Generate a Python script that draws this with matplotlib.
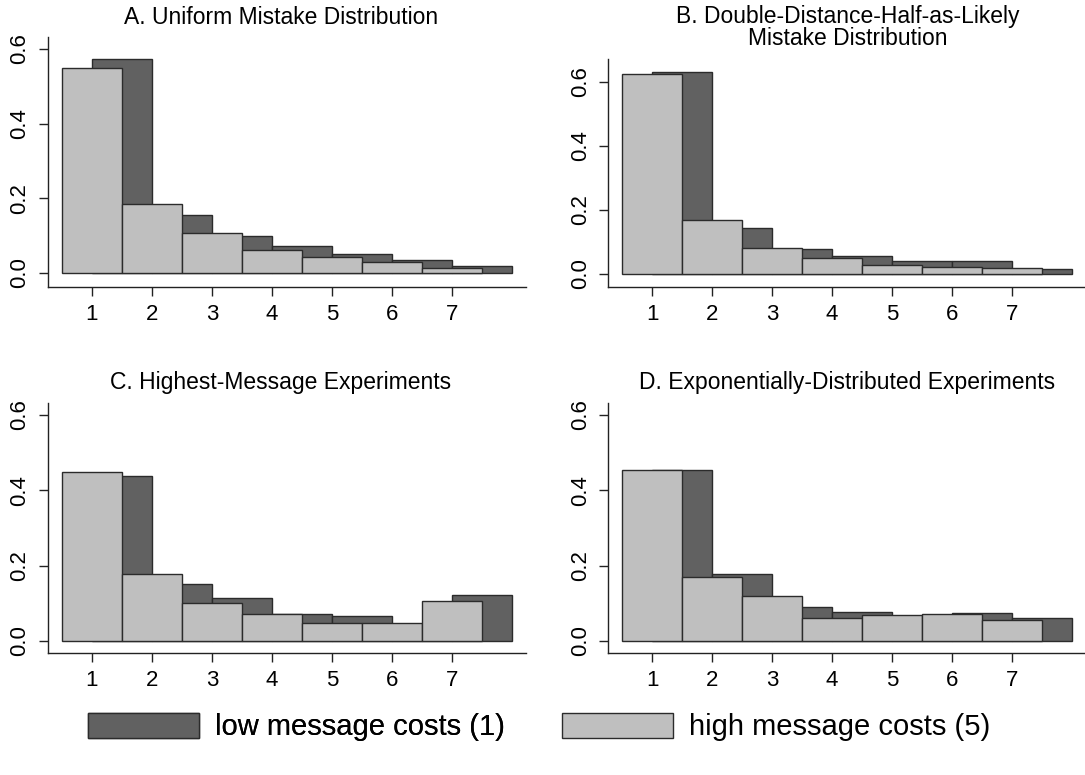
import matplotlib
matplotlib.use('Agg')
import matplotlib.pyplot as plt
import numpy as np

plt.rcParams['font.family'] = ['Liberation Sans', 'DejaVu Sans']

# message distance categories
msgs = [1, 2, 3, 4, 5, 6, 7]

titles = ['A. Uniform Mistake Distribution',
          'B. Double-Distance-Half-as-Likely\nMistake Distribution',
          'C. Highest-Message Experiments',
          'D. Exponentially-Distributed Experiments']

# low message costs (1)
low_A = [0.574, 0.155, 0.098, 0.071, 0.050, 0.036, 0.018]
low_B = [0.630, 0.144, 0.077, 0.055, 0.040, 0.040, 0.017]
low_C = [0.437, 0.152, 0.115, 0.071, 0.067, 0.045, 0.122]
low_D = [0.453, 0.178, 0.089, 0.078, 0.065, 0.075, 0.062]

# high message costs (5)
high_A = [0.550, 0.185, 0.108, 0.062, 0.044, 0.029, 0.014]
high_B = [0.626, 0.170, 0.080, 0.049, 0.029, 0.023, 0.019]
high_C = [0.448, 0.177, 0.100, 0.071, 0.047, 0.048, 0.107]
high_D = [0.455, 0.169, 0.119, 0.060, 0.069, 0.072, 0.057]

lows = [low_A, low_B, low_C, low_D]
highs = [high_A, high_B, high_C, high_D]

dark = '#616161'
light = '#bfbfbf'
edge = '#2b2b2b'

fig = plt.figure(figsize=(10.85, 7.75), dpi=100)

# axes rectangles in figure fractions: left, bottom, width, height
rects = [(0.0442, 0.6297, 0.4406, 0.3226),
         (0.5604, 0.6297, 0.4406, 0.2942),
         (0.0442, 0.1574, 0.4406, 0.3226),
         (0.5604, 0.1574, 0.4406, 0.3226)]
ylims = [(-0.0375, 0.632), (-0.0406, 0.672), (-0.032, 0.632), (-0.032, 0.632)]
title_pos = [(0.259, 0.978), (0.781, 0.9645), (0.259, 0.506), (0.781, 0.506)]

x = np.array(msgs)
for i in range(4):
    ax = fig.add_axes(rects[i])
    bd = ax.bar(x + 0.5, lows[i], width=1.0, color=dark, edgecolor=edge,
                linewidth=1.0, zorder=2)
    bl = ax.bar(x, highs[i], width=1.0, color=light, edgecolor=edge,
                linewidth=1.0, zorder=3)
    ax.set_xlim(0.267, 8.233)
    ax.set_ylim(*ylims[i])
    ax.spines['top'].set_visible(False)
    ax.spines['right'].set_visible(False)
    for s in ['left', 'bottom']:
        ax.spines[s].set_linewidth(1.0)
        ax.spines[s].set_color('#222222')
    ax.set_xticks(msgs)
    ax.set_yticks([0.0, 0.2, 0.4, 0.6])
    ax.set_yticklabels(['0.0', '0.2', '0.4', '0.6'], rotation=90, va='center')
    ax.tick_params(axis='both', length=6.5, width=1.0, labelsize=16,
                   color='#222222', pad=6)
    fig.text(title_pos[i][0], title_pos[i][1], titles[i], ha='center',
             va='center', fontsize=16.5, linespacing=0.92)

# two single-entry legends so each patch sits where it does in the original
leg_kw = dict(loc='center left', frameon=False, fontsize=21, borderpad=0,
              borderaxespad=0, handlelength=3.8, handleheight=0.96,
              handletextpad=0.55)
leg1 = fig.legend([bd], ['low message costs (1)'],
                  bbox_to_anchor=(0.0811, 0.062), **leg_kw)
fig.legend([bl], ['high message costs (5)'],
           bbox_to_anchor=(0.518, 0.062), **leg_kw)
fig.add_artist(leg1)

fig.savefig('out.png', dpi=100)
